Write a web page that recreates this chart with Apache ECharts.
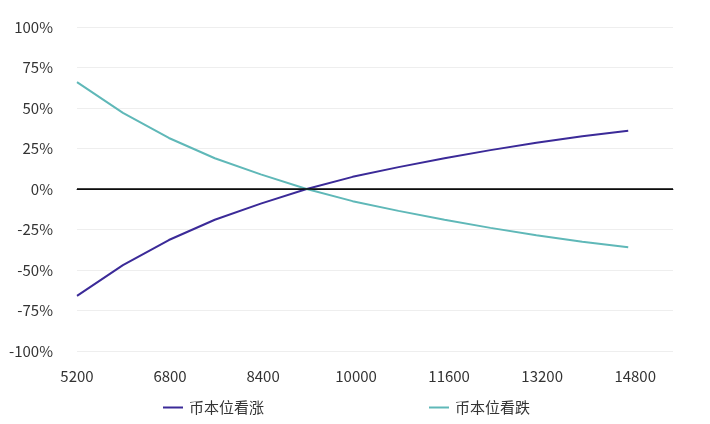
<!DOCTYPE html><html><head><meta charset="utf-8"><script src="https://cdn.jsdelivr.net/npm/echarts@6/dist/echarts.min.js"></script></head><body style="margin:0"><div id="c" style="width:710px;height:424px"></div><script>
const xs=[5200,5990,6780,7570,8360,9150,9940,10730,11520,12310,13100,13890,14680];
const up=[-66,-47,-31.5,-19,-9,0,7.5,13.5,19,24,28.5,32.5,36];
const down=[66,47,31.5,19,9,0,-7.5,-13.5,-19,-24,-28.5,-32.5,-36];
const names=['币本位看涨','币本位看跌'];
const f='"Noto Sans CJK SC","Noto Sans",sans-serif';
const ch=echarts.init(document.getElementById('c'));
ch.setOption({animation:false,textStyle:{fontFamily:f},
grid:{left:77,right:37,top:27,bottom:73},
legend:{bottom:4,left:158,itemGap:165,icon:'path://M0,0H20V2H0Z',itemWidth:22,itemHeight:2,textStyle:{fontSize:15,color:'#333',fontFamily:f}},
xAxis:{type:'value',min:5200,max:15450,interval:1600,axisLine:{show:true,lineStyle:{color:'#333'}},axisTick:{show:false},splitLine:{show:false},
 axisLabel:{fontSize:15,color:'#333',margin:18,showMaxLabel:false,formatter:v=>String(v)}},
yAxis:{type:'value',min:-100,max:100,interval:25,axisLine:{show:false},axisTick:{show:false},
 splitLine:{lineStyle:{color:'#eee'}},axisLabel:{fontSize:15,color:'#333',formatter:'{value}%',margin:24}},
series:[
{name:names[0],type:'line',symbol:'none',data:xs.map((x,i)=>[x,up[i]]),lineStyle:{color:'#3b2a98',width:2},itemStyle:{color:'#3b2a98'},
 markLine:{silent:true,symbol:'none',label:{show:false},lineStyle:{color:'#000',type:'solid',width:1.5},data:[{yAxis:0}]}},
{name:names[1],type:'line',symbol:'none',data:xs.map((x,i)=>[x,down[i]]),lineStyle:{color:'#5fb8b8',width:2},itemStyle:{color:'#5fb8b8'}}
]});
</script></body></html>
